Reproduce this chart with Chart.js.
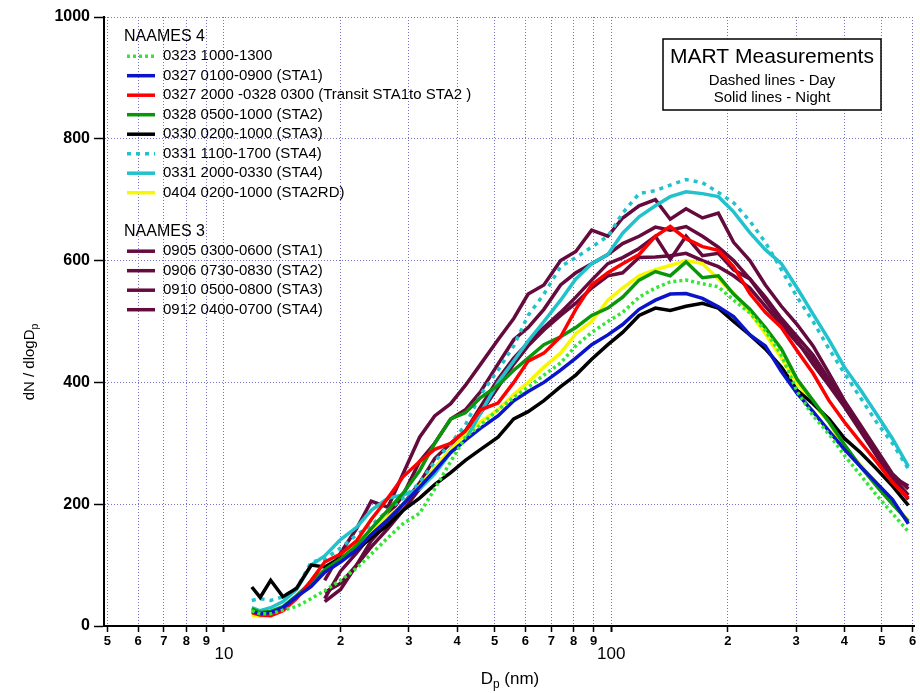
<!DOCTYPE html>
<html>
<head>
<meta charset="utf-8">
<title>MART size distributions</title>
<script src="https://cdn.jsdelivr.net/npm/chart.js@4.4.1/dist/chart.umd.min.js"></script>
<style>
  html, body { margin: 0; padding: 0; background: #fff; }
</style>
</head>
<body>
<canvas id="chart" width="920" height="693"></canvas>
<script>
// Particle diameter (nm) for every sample column
const diameters = [11.8, 12.4, 13.2, 14.2, 15.4, 16.8, 18.2, 20, 22, 24, 26.5, 29, 32, 35, 38.5, 42, 46, 51, 56, 61,
  67, 74, 81, 89, 98, 107, 118, 130, 142, 156, 172, 189, 207, 228, 250, 275, 302, 332, 365, 400, 440, 484, 532, 585];

// NAAMES 4
const s0323 = [25, 20, 20, 26, 32, 45, 58, 75, 95, 118, 145, 168, 185, 225, 270, 310, 330, 355, 375, 392,
  412, 432, 460, 482, 500, 515, 540, 555, 565, 568, 562, 557, 535, 514, 485, 445, 385, 345, 315, 280, 248, 215, 185, 155];
const s0327 = [24, 20, 22, 30, 48, 65, 88, 105, 125, 150, 175, 200, 228, 255, 285, 305, 325, 345, 370, 385,
  400, 420, 440, 462, 478, 495, 520, 535, 545, 546, 538, 524, 508, 478, 460, 418, 382, 352, 320, 290, 262, 235, 208, 168];
const s0327b = [22, 18, 17, 25, 45, 75, 105, 118, 140, 175, 210, 245, 270, 290, 300, 320, 355, 366, 400, 435,
  448, 475, 520, 560, 580, 595, 610, 640, 656, 636, 623, 617, 590, 546, 515, 490, 452, 415, 370, 335, 302, 270, 236, 210];
const s0328 = [28, 22, 24, 32, 50, 72, 92, 110, 132, 160, 190, 218, 255, 300, 340, 350, 375, 395, 420, 440,
  462, 475, 490, 510, 522, 540, 568, 582, 575, 598, 572, 575, 545, 520, 490, 455, 405, 370, 335, 298, 262, 230, 200, 172];
const s0330 = [64, 47, 75, 48, 62, 100, 97, 112, 125, 145, 165, 190, 210, 232, 252, 272, 290, 310, 340, 352,
  370, 393, 412, 438, 462, 482, 510, 522, 518, 525, 530, 522, 500, 478, 455, 425, 387, 365, 340, 308, 285, 258, 230, 198];
const s0331day = [42, 45, 42, 48, 62, 105, 110, 128, 150, 165, 190, 210, 235, 270, 300, 330, 380, 420, 460, 510,
  545, 590, 605, 622, 640, 678, 710, 715, 724, 733, 728, 712, 695, 665, 630, 585, 540, 500, 455, 415, 375, 335, 300, 258];
const s0331night = [30, 25, 30, 40, 60, 100, 115, 142, 162, 190, 210, 215, 225, 250, 285, 305, 350, 400, 435, 468,
  500, 535, 570, 595, 610, 645, 672, 690, 705, 713, 710, 705, 680, 646, 618, 595, 555, 512, 470, 425, 388, 348, 308, 262];
const s0404 = [18, 16, 18, 28, 48, 68, 87, 112, 135, 158, 180, 200, 230, 260, 290, 315, 335, 355, 380, 400,
  425, 448, 480, 500, 535, 555, 575, 585, 592, 600, 595, 570, 546, 515, 480, 440, 398, 365, 335, 290, 265, 235, 205, 172];

// NAAMES 3
const s0905 = [null, null, null, null, null, null, 75, 120, 160, 205, 195, 250, 310, 345, 365, 395, 430, 470, 505, 545,
  560, 600, 615, 650, 640, 670, 690, 700, 668, 685, 670, 678, 630, 600, 560, 525, 495, 460, 415, 370, 330, 290, 250, 225];
const s0906 = [null, null, null, null, null, null, 45, 90, 120, 150, 180, 215, 270, 300, 340, 355, 385, 430, 470, 490,
  520, 560, 580, 595, 610, 628, 640, 655, 650, 656, 640, 622, 600, 570, 540, 505, 475, 445, 405, 365, 325, 285, 245, 215];
const s0910 = [null, null, null, null, null, null, 55, 70, 100, 140, 170, 200, 235, 275, 300, 320, 360, 405, 440, 465,
  490, 515, 540, 568, 595, 605, 620, 640, 602, 640, 608, 612, 585, 570, 535, 500, 468, 430, 395, 360, 320, 280, 240, 208];
const s0912 = [null, null, null, null, null, null, 40, 60, 100, 130, 160, 190, 225, 255, 290, 320, 350, 392, 430, 460,
  486, 510, 530, 555, 575, 580, 605, 606, 608, 612, 600, 590, 575, 555, 525, 495, 465, 438, 400, 362, 322, 282, 245, 230];

const legendHeaders = ['NAAMES 4', 'NAAMES 3'];
const xTickValues = [5, 6, 7, 8, 9, 10, 20, 30, 40, 50, 60, 70, 80, 90, 100, 200, 300, 400, 500, 600];
const xTickLabels = ['5', '6', '7', '8', '9', '10', '2', '3', '4', '5', '6', '7', '8', '9', '100', '2', '3', '4', '5', '6'];
const xMajor = [10, 100];

const FONT = '"Liberation Sans", Arial, Helvetica, sans-serif';
const MAROON = '#650a3d';
const GRID = '#7474c8';

function series(label, values, color, group, dash) {
  return {
    label, group,
    data: diameters.map((d, i) => ({ x: d, y: values[i] })),
    borderColor: color,
    backgroundColor: color,
    borderWidth: 3.5,
    borderDash: dash || [],
    pointRadius: 0,
    tension: 0,
    fill: false
  };
}

const datasets = [
  series('0323 1000-1300', s0323, '#35e635', 0, [3, 3]),
  series('0327 0100-0900 (STA1)', s0327, '#0a14c8', 0),
  series('0327 2000 -0328 0300 (Transit STA1to STA2 )', s0327b, '#ff0000', 0),
  series('0328 0500-1000 (STA2)', s0328, '#0a960a', 0),
  series('0330 0200-1000 (STA3)', s0330, '#000000', 0),
  series('0331 1100-1700 (STA4)', s0331day, '#22c2cc', 0, [4, 5]),
  series('0331 2000-0330 (STA4)', s0331night, '#22c2cc', 0),
  series('0404 0200-1000 (STA2RD)', s0404, '#f7f700', 0),
  series('0905 0300-0600 (STA1)', s0905, MAROON, 1),
  series('0906 0730-0830 (STA2)', s0906, MAROON, 1),
  series('0910 0500-0800 (STA3)', s0910, MAROON, 1),
  series('0912 0400-0700 (STA4)', s0912, MAROON, 1)
];

function subText(ctx, main, sub, tail, x, y, size) {
  const f = s => s + 'px ' + FONT;
  ctx.font = f(size);
  const w1 = ctx.measureText(main).width, w3 = ctx.measureText(tail).width;
  ctx.font = f(size * 0.7);
  const w2 = ctx.measureText(sub).width;
  let cx = x - (w1 + w2 + w3) / 2;
  ctx.textAlign = 'left';
  ctx.textBaseline = 'alphabetic';
  ctx.font = f(size); ctx.fillText(main, cx, y); cx += w1;
  ctx.font = f(size * 0.7); ctx.fillText(sub, cx, y + size * 0.25); cx += w2;
  ctx.font = f(size); ctx.fillText(tail, cx, y);
}

// axis titles, legend and the note box
const decorations = {
  id: 'decorations',
  afterDraw(chart) {
    const ctx = chart.ctx;
    ctx.save();
    ctx.fillStyle = '#000';

    subText(ctx, 'D', 'p', ' (nm)', 510, 684, 17);
    ctx.save();
    ctx.translate(34, 362);
    ctx.rotate(-Math.PI / 2);
    subText(ctx, 'dN / dlogD', 'p', '', 0, 0, 15);
    ctx.restore();

    // legend
    const rowY = r => 36.7 + 19.5 * r;
    let r = 0;
    legendHeaders.forEach((h, g) => {
      ctx.font = '16px ' + FONT;
      ctx.textAlign = 'left';
      ctx.textBaseline = 'middle';
      ctx.fillStyle = '#000';
      ctx.fillText(h, 124, rowY(r));
      r++;
      chart.data.datasets.filter(ds => ds.group === g).forEach(ds => {
        const y = rowY(r);
        ctx.strokeStyle = ds.borderColor;
        ctx.lineWidth = 3.5;
        ctx.setLineDash(ds.borderDash);
        ctx.beginPath();
        ctx.moveTo(127, y);
        ctx.lineTo(155, y);
        ctx.stroke();
        ctx.setLineDash([]);
        ctx.font = '15px ' + FONT;
        ctx.fillText(ds.label, 163, y);
        r++;
      });
      r++;
    });

    // note box
    ctx.fillStyle = '#fff';
    ctx.fillRect(663, 39, 218, 71);
    ctx.strokeStyle = '#000';
    ctx.lineWidth = 1.5;
    ctx.strokeRect(663, 39, 218, 71);
    ctx.fillStyle = '#000';
    ctx.textAlign = 'center';
    ctx.textBaseline = 'alphabetic';
    ctx.font = '21px ' + FONT;
    ctx.fillText('MART Measurements', 772, 63);
    ctx.font = '15px ' + FONT;
    ctx.fillText('Dashed lines - Day', 772, 85);
    ctx.fillText('Solid lines - Night', 772, 102);
    ctx.restore();
  }
};

new Chart(document.getElementById('chart'), {
  type: 'line',
  data: { datasets },
  options: {
    responsive: false,
    animation: false,
    devicePixelRatio: 1,
    layout: { padding: { left: 0, top: 17, right: 6, bottom: 0 } },
    plugins: { legend: { display: false }, tooltip: { enabled: false } },
    scales: {
      x: {
        type: 'logarithmic',
        min: 4.9,
        max: 605,
        afterFit: s => { s.height = 67; },
        afterBuildTicks: s => { s.ticks = xTickValues.map(v => ({ value: v })); },
        ticks: {
          autoSkip: false,
          maxRotation: 0,
          minRotation: 0,
          padding: 2,
          color: '#000',
          callback: v => {
            const i = xTickValues.indexOf(v);
            if (i < 0) return '';
            return xMajor.includes(v) ? ['', xTickLabels[i]] : xTickLabels[i];
          },
          font: c => (c.tick && xMajor.includes(c.tick.value))
            ? { family: FONT, size: 17, lineHeight: 0.8 }
            : { family: FONT, size: 13, weight: 'bold' }
        },
        grid: {
          color: GRID,
          lineWidth: 1,
          tickLength: 6,
          tickColor: '#000',
          tickWidth: c => (c.tick && xMajor.includes(c.tick.value)) ? 2 : 1.5
        },
        border: { color: '#000', width: 2, dash: [1, 2] }
      },
      y: {
        min: 0,
        max: 1000,
        afterFit: s => { s.width = 104; },
        ticks: {
          stepSize: 200,
          padding: 4,
          color: '#000',
          callback: v => String(v),
          font: { family: FONT, size: 16, weight: 'bold' }
        },
        grid: {
          color: GRID,
          lineWidth: 1,
          tickLength: 10,
          tickColor: '#000',
          tickWidth: 1.5
        },
        border: { color: '#000', width: 2, dash: [1, 2] }
      }
    }
  },
  plugins: [decorations]
});
</script>
</body>
</html>
